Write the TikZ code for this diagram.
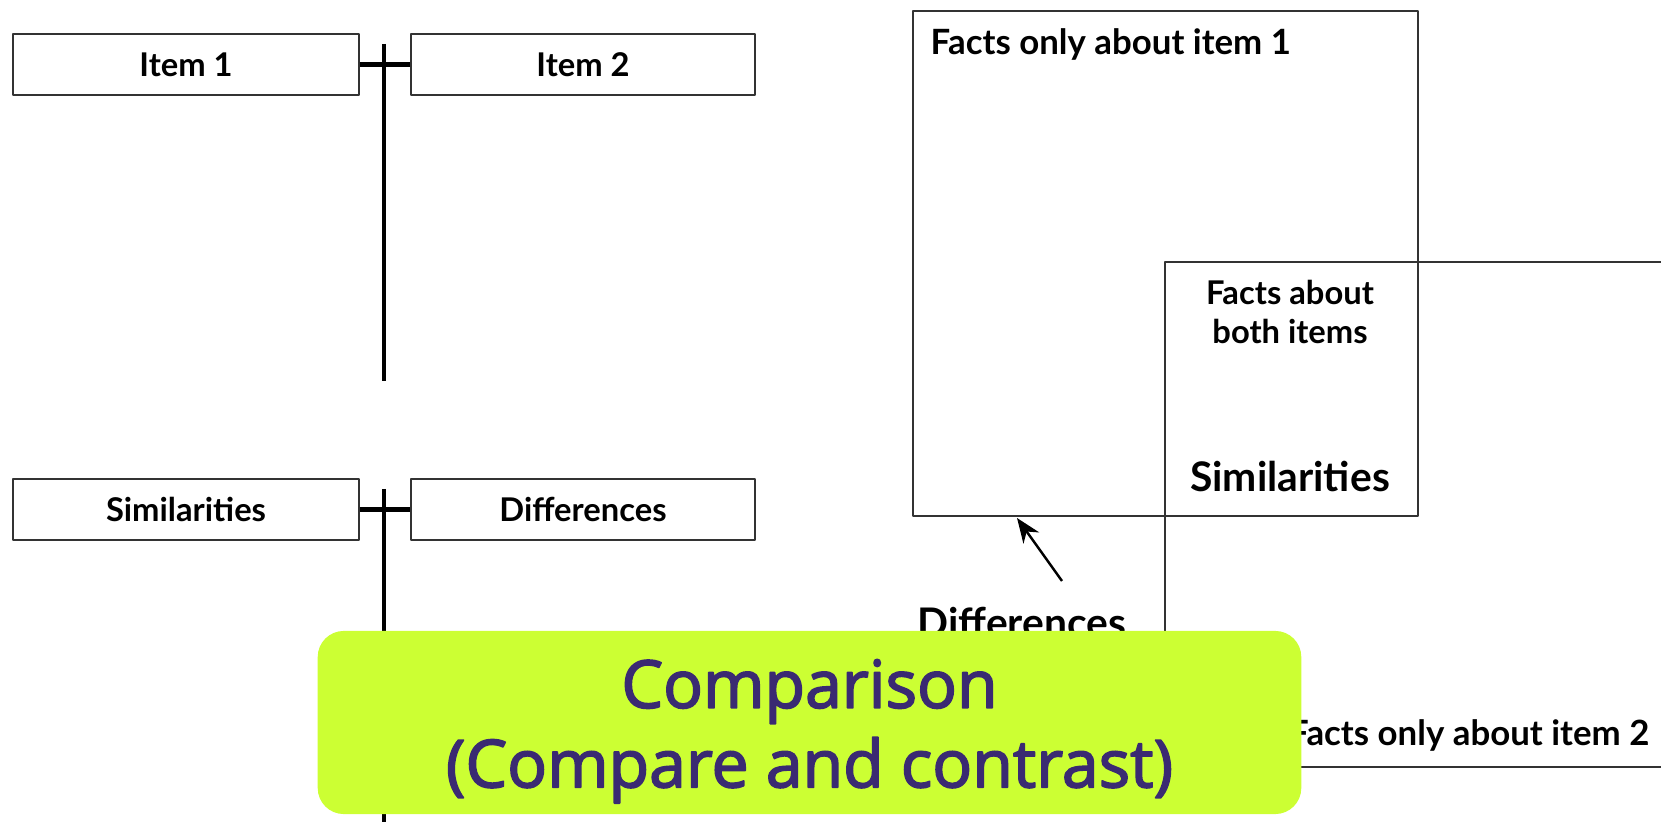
\documentclass[tikz,border=0pt]{standalone}
\usepackage{fontspec}
\setmainfont{Lato}
\newfontfamily\titlefont{Open Sans}[FakeBold=2.5]
\usetikzlibrary{arrows.meta}
\definecolor{limebg}{HTML}{CCFF33}
\definecolor{titleink}{HTML}{3A2A72}
\definecolor{boxline}{HTML}{333333}

\begin{document}
\begin{tikzpicture}[x=0.01cm, y=-0.01cm, font=\bfseries\fontsize{9.3}{11}\selectfont, line join=round, >={Stealth[length=7pt,width=5.5pt]},
	itembox/.style={draw=boxline, line width=0.6pt, minimum width=3.45cm, minimum height=0.61cm, inner sep=0pt},
	bar/.style={line width=1.2pt},
	frame/.style={draw=boxline, line width=0.6pt},
	facts/.style={font=\bfseries\fontsize{9.9}{11}\selectfont, inner sep=0pt},
	bigword/.style={font=\bfseries\fontsize{11.6}{14}\selectfont, inner sep=0pt}]
	\useasboundingbox (0,0) rectangle (1661,822);
	% left: two crossed tables
	\node[itembox] (item1) at (186,64.5) {Item 1};
	\node[itembox, minimum width=3.44cm] (item2) at (583,64.5) {Item 2};
	\node[itembox] (sim) at (186,509.5) {Similarities};
	\node[itembox, minimum width=3.44cm] (dif) at (583,509.5) {Differences};
	\path
	(384,44) coordinate (T1)
	(384,381) coordinate (B1)
	(384,489) coordinate (T2)
	(384,822) coordinate (B2)
	;
	\draw[bar] (T1)--(B1) (T2)--(B2);
	\draw[bar] (item1)--(item2) (sim)--(dif);
	% right: overlapping boxes
	\node[frame, minimum width=5.05cm, minimum height=5.05cm, inner sep=0pt] (only1) at (1165.5,263.5) {};
	\path
	(1700,262) coordinate (R1)
	(1165,262) coordinate (C1)
	(1165,767) coordinate (C2)
	(1700,767) coordinate (R2)
	;
	\draw[frame] (R1)--(C1)--(C2)--(R2);
	\node[facts, anchor=north west] (txt1) at (930,28) {Facts only about item 1};
	\node[align=center, inner sep=0pt] (both) at (1290,312) {Facts about\\both items};
	\node[bigword] (simr) at (1290,477) {Similarities};
	\node[bigword] (difr) at (1022,623) {Differences};
	\node[facts, anchor=east] (txt2) at (1650,735) {Facts only about item 2};
	\path
	(1062,581) coordinate (tail)
	(1017,518) coordinate (tip)
	;
	\draw[->, line width=0.7pt] (tail)--(tip);
	% title
	\node[fill=limebg, rounded corners=0.26cm, minimum width=9.83cm, minimum height=1.83cm] (title) at (809.5,722.5) {};
	\node[align=center, text=titleink, font=\titlefont\fontsize{18.8}{22.6}\selectfont] (titletext) at ([yshift=-2.5pt]title.center) {Comparison\\(Compare and contrast)};
\end{tikzpicture}
\end{document}
